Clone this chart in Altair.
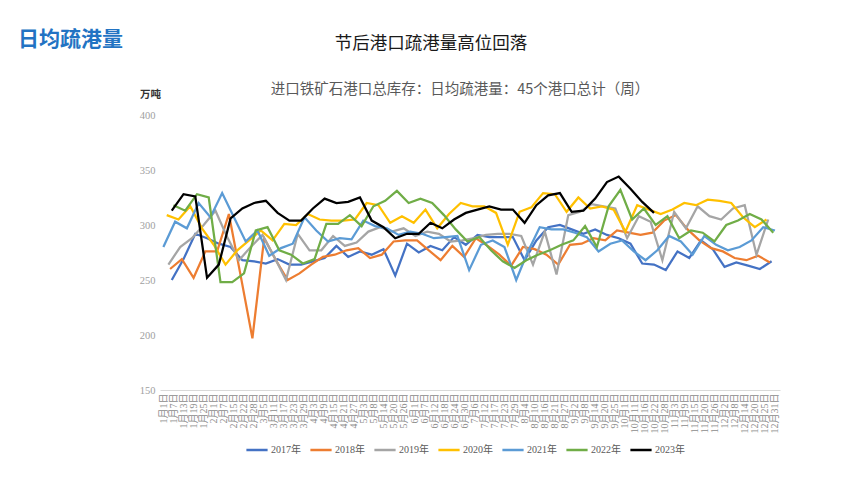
import json
import altair as alt
import pandas as pd

# ---------------- data ----------------
YEARS = ["2017年", "2018年", "2019年", "2020年", "2021年", "2022年", "2023年"]
COLORS = ["#4472C4", "#ED7D31", "#A5A5A5", "#FFC000", "#5B9BD5", "#70AD47", "#000000"]

v2017 = [250, 269, 292, 288, 283, 280, 268, 267, 265, 269, 264, 264, 267, 270, 281, 271, 276, 273, 278, 254,
         283, 275, 281, 277, 289, 282, 291, 289, 289, 289, 268, 286, 298, 300, 296, 292, 296, 291, 288, 283,
         265, 264, 259, 276, 270, 286, 278, 262, 266, 263, 260, 267]
v2018 = [260, 269, 252, 276, 276, 310, 254, 197, 288, 268, 250, 256, 264, 271, 273, 277, 279, 270, 273, 285,
         286, 286, 277, 268, 281, 271, 288, 281, 273, 263, 280, 278, 273, 264, 282, 283, 288, 286, 295, 293,
         291, 293, 304, 309, 296, 286, 279, 276, 270, 268, 272, 266]
v2019 = [264, 280, 288, 300, 313, 289, 268, 280, 291, 271, 250, 292, 277, 277, 290, 281, 284, 294, 298, 294,
         297, 290, 294, 292, 285, 286, 288, 291, 292, 292, 290, 264, 294, 255, 309, 312, 319, 317, 315, 288,
         308, 303, 268, 312, 297, 317, 308, 305, 315, 318, 273, 305]
v2020 = [309, 305, 317, 297, 282, 264, 277, 286, 295, 286, 301, 300, 310, 305, 304, 304, 305, 320, 318, 302,
         308, 302, 314, 297, 310, 320, 317, 317, 311, 282, 312, 316, 329, 328, 312, 325, 315, 317, 314, 294,
         318, 314, 310, 314, 320, 318, 323, 322, 320, 307, 298, 305]
v2021 = [280, 303, 297, 320, 307, 329, 307, 285, 295, 272, 279, 283, 307, 295, 285, 288, 287, 304, 299, 297,
         291, 294, 292, 288, 289, 290, 259, 282, 286, 280, 250, 276, 298, 296, 296, 293, 289, 276, 283, 286,
         276, 268, 277, 290, 285, 273, 290, 282, 277, 280, 286, 298, 295]
v2022 = [318, 313, 328, 325, 248, 248, 256, 295, 298, 277, 273, 265, 269, 301, 301, 309, 299, 317, 322, 331,
         320, 324, 320, 309, 296, 285, 289, 277, 267, 261, 268, 273, 277, 282, 286, 299, 280, 317, 332, 305,
         315, 300, 308, 288, 295, 293, 285, 300, 304, 310, 305, 293]
v2023 = [313, 328, 326, 252, 264, 306, 315, 320, 322, 311, 304, 304, 315, 324, 320, 321, 325, 304, 298, 288,
         292, 292, 302, 297, 305, 311, 314, 317, 314, 314, 302, 318, 327, 329, 312, 313, 324, 339, 344, 333,
         321, 311]

X_LABELS = ["1月1日", "1月7日", "1月13日", "1月19日", "1月25日", "2月1日", "2月7日", "2月15日", "2月22日", "2月28日",
            "3月5日", "3月11日", "3月17日", "3月23日", "3月29日", "4月3日", "4月9日", "4月15日", "4月21日", "4月27日",
            "5月3日", "5月8日", "5月14日", "5月20日", "5月26日", "6月1日", "6月7日", "6月12日", "6月18日", "6月24日",
            "6月30日", "7月6日", "7月12日", "7月17日", "7月23日", "7月29日", "8月4日", "8月10日", "8月16日", "8月21日",
            "8月27日", "9月2日", "9月8日", "9月14日", "9月20日", "9月25日", "10月1日", "10月11日", "10月16日", "10月22日",
            "10月28日", "11月3日", "11月9日", "11月15日", "11月20日", "11月26日", "12月2日", "12月8日", "12月14日", "12月20日",
            "12月25日", "12月31日"]

Y_TICKS = [150, 200, 250, 300, 350, 400]

SERIES = [v2017, v2018, v2019, v2020, v2021, v2022, v2023]

# weekly data, published on Fridays -> day of year
rows = []
for name, vals in zip(YEARS, SERIES):
    yr = int(name[:4])
    fridays = pd.date_range(f"{yr}-01-01", f"{yr}-12-31", freq="W-FRI")
    for d, v in zip(fridays, vals):
        rows.append({"series": name, "day": int(d.dayofyear), "value": v})
df = pd.DataFrame(rows)

n = len(X_LABELS)
tick_vals = [1 + i * 364 / (n - 1) for i in range(n)]
label_expr = json.dumps(X_LABELS, ensure_ascii=False) + f"[round((datum.value - 1) * {n - 1} / 364)]"

FONT_SERIF = "Liberation Serif, Noto Sans CJK SC"
FONT_CJK = "Noto Sans CJK SC"

lines = alt.Chart(df).mark_line(strokeWidth=2.25).encode(
    x=alt.X("day:Q",
            scale=alt.Scale(domain=[-1, 368], nice=False, zero=False),
            axis=alt.Axis(values=tick_vals, labelExpr=label_expr, labelAngle=270,
                          labelOverlap=False, labelFlush=False, grid=False, ticks=False,
                          domainColor="#D9D9D9", domainWidth=1, labelColor="#8C8C8C",
                          labelFont=FONT_SERIF, labelFontSize=10, labelPadding=3, title=None)),
    y=alt.Y("value:Q",
            scale=alt.Scale(domain=[150, 400], nice=False, zero=False),
            axis=alt.Axis(values=Y_TICKS, grid=False, domain=False, ticks=False,
                          labelColor="#A0A0A0", labelFont=FONT_SERIF, labelFontSize=10.5,
                          labelPadding=5, title=None)),
    color=alt.Color("series:N",
                    scale=alt.Scale(domain=YEARS, range=COLORS),
                    legend=alt.Legend(orient="none", legendX=85, legendY=323, direction="horizontal",
                                      columns=7, title=None, symbolType="stroke", symbolSize=450,
                                      symbolStrokeWidth=2.5, labelFontSize=10, labelColor="#595959",
                                      labelFont=FONT_SERIF, labelOffset=2, columnPadding=4, padding=0)),
)

one = pd.DataFrame({"k": [0]})


def label(text, x, y, size, color, weight="normal", align="left"):
    return alt.Chart(one).mark_text(
        align=align, baseline="middle", font=FONT_CJK, fontSize=size,
        fontWeight=weight, color=color
    ).encode(x=alt.value(x), y=alt.value(y), text=alt.value(text))


brand = label("日均疏港量", -142, -75, 21, "#2273C3", weight="bold")
title = label("节后港口疏港量高位回落", 271, -71, 17.5, "#1A1A1A", align="center")
subtitle = label("进口铁矿石港口总库存：日均疏港量：45个港口总计（周）", 300, -25, 14.5, "#595959", align="center")
unit = label("万吨", -20, -20, 10.5, "#333333", weight="bold")

chart = alt.layer(lines, brand, title, subtitle, unit).properties(
    width=620, height=275,
    autosize=alt.AutoSizeParams(type="none"),
    padding={"left": 160, "top": 115, "right": 82, "bottom": 98},
    background="white",
).configure_view(stroke=None)

chart.save("out.html", embed_options={"renderer": "svg", "actions": False})
